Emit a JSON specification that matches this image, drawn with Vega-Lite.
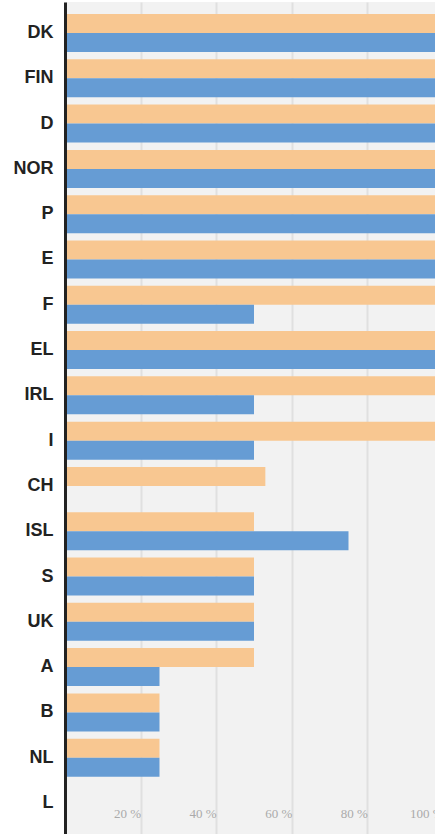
{
  "$schema": "https://vega.github.io/schema/vega-lite/v6.json",
  "autosize": {"type": "none"},
  "padding": {"left": 65, "top": 2, "right": 0, "bottom": 0},
  "width": 370,
  "height": 832,
  "background": "white",
  "data": {"values": [
    {"country": "DK", "series": "orange", "value": 100},
    {"country": "DK", "series": "blue", "value": 100},
    {"country": "FIN", "series": "orange", "value": 100},
    {"country": "FIN", "series": "blue", "value": 100},
    {"country": "D", "series": "orange", "value": 100},
    {"country": "D", "series": "blue", "value": 100},
    {"country": "NOR", "series": "orange", "value": 100},
    {"country": "NOR", "series": "blue", "value": 100},
    {"country": "P", "series": "orange", "value": 100},
    {"country": "P", "series": "blue", "value": 100},
    {"country": "E", "series": "orange", "value": 100},
    {"country": "E", "series": "blue", "value": 100},
    {"country": "F", "series": "orange", "value": 100},
    {"country": "F", "series": "blue", "value": 50},
    {"country": "EL", "series": "orange", "value": 100},
    {"country": "EL", "series": "blue", "value": 100},
    {"country": "IRL", "series": "orange", "value": 100},
    {"country": "IRL", "series": "blue", "value": 50},
    {"country": "I", "series": "orange", "value": 100},
    {"country": "I", "series": "blue", "value": 50},
    {"country": "CH", "series": "orange", "value": 53},
    {"country": "CH", "series": "blue", "value": 0},
    {"country": "ISL", "series": "orange", "value": 50},
    {"country": "ISL", "series": "blue", "value": 75},
    {"country": "S", "series": "orange", "value": 50},
    {"country": "S", "series": "blue", "value": 50},
    {"country": "UK", "series": "orange", "value": 50},
    {"country": "UK", "series": "blue", "value": 50},
    {"country": "A", "series": "orange", "value": 50},
    {"country": "A", "series": "blue", "value": 25},
    {"country": "B", "series": "orange", "value": 25},
    {"country": "B", "series": "blue", "value": 25},
    {"country": "NL", "series": "orange", "value": 25},
    {"country": "NL", "series": "blue", "value": 25},
    {"country": "L", "series": "orange", "value": 0},
    {"country": "L", "series": "blue", "value": 0}
  ]},
  "mark": {"type": "bar"},
  "encoding": {
    "y": {
      "field": "country", "type": "nominal",
      "sort": ["DK","FIN","D","NOR","P","E","F","EL","IRL","I","CH","ISL","S","UK","A","B","NL","L"],
      "scale": {"paddingInner": 0.161, "paddingOuter": 0.265},
      "axis": {"title": null, "domain": true, "domainColor": "#222222", "domainWidth": 3, "ticks": false, "labelPadding": 12, "labelFont": "Liberation Sans", "labelFontWeight": "bold", "labelFontSize": 18, "labelColor": "#222222", "grid": false, "zindex": 1}
    },
    "yOffset": {"field": "series", "type": "nominal", "sort": ["orange", "blue"]},
    "x": {
      "field": "value", "type": "quantitative",
      "scale": {"domain": [0, 100], "nice": false, "range": [0, 378]},
      "axis": {"title": null, "values": [20, 40, 60, 80, 100], "labelExpr": "datum.value + ' %'", "domain": false, "ticks": false, "grid": true, "gridColor": "#e0e0e0", "gridWidth": 2, "labelAlign": "right", "labelDx": -4, "labelPadding": -17, "labelBaseline": "alphabetic", "labelFont": "Liberation Serif", "labelFontSize": 13, "labelColor": "#aaaaaa", "labelOverlap": false, "labelBound": false, "labelFlush": false}
    },
    "color": {
      "field": "series", "type": "nominal",
      "scale": {"domain": ["orange", "blue"], "range": ["#f8c791", "#669cd4"]},
      "legend": null
    }
  },
  "config": {"view": {"fill": "#f2f2f2", "stroke": null}}
}
